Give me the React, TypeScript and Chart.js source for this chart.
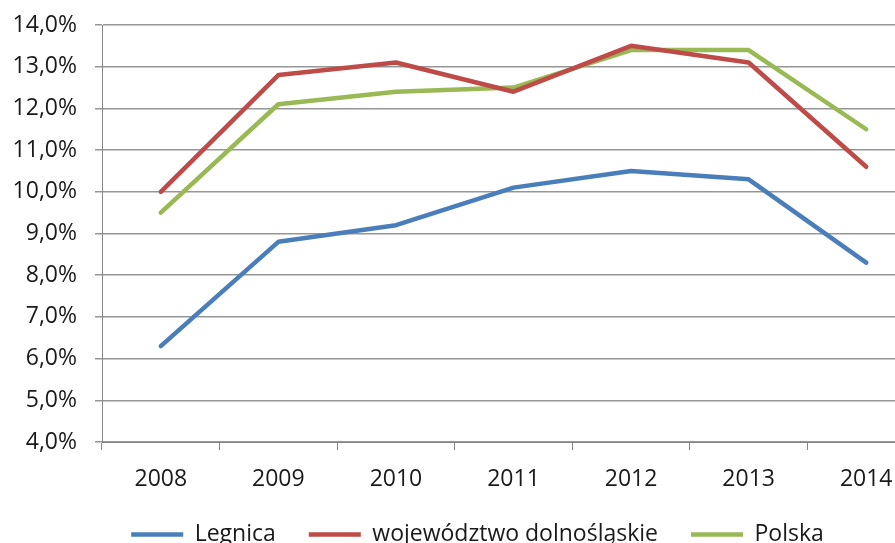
import React, { useEffect, useRef } from "react";
import { Chart, registerables } from "chart.js";

Chart.register(...registerables);

const categories = ["2008", "2009", "2010", "2011", "2012", "2013", "2014"];
const legnica = [6.3, 8.8, 9.2, 10.1, 10.5, 10.3, 8.3];
const dolnoslaskie = [10.0, 12.8, 13.1, 12.4, 13.5, 13.1, 10.6];
const polska = [9.5, 12.1, 12.4, 12.5, 13.4, 13.4, 11.5];
const seriesNames = ["Legnica", "województwo dolnośląskie", "Polska"];

const FONT = "'Open Sans', 'Noto Sans', sans-serif";

const legendShift = {
  id: "legendShift",
  afterLayout(chart: any) {
    if (chart.legend) {
      chart.legend.left += 15;
      chart.legend.right += 15;
      chart.legend.top += 1;
      chart.legend.bottom += 1;
    }
  },
};

export default function App() {
  const ref = useRef<HTMLCanvasElement>(null);
  useEffect(() => {
    if (!ref.current) return;
    const common = { borderWidth: 4.5, pointRadius: 0, tension: 0, borderJoinStyle: "round" as const, borderCapStyle: "round" as const };
    const chart = new Chart(ref.current, {
      type: "line",
      data: {
        labels: categories,
        datasets: [
          { label: seriesNames[0], data: legnica, borderColor: "#4A7EBB", backgroundColor: "#4A7EBB", ...common },
          { label: seriesNames[1], data: dolnoslaskie, borderColor: "#BE4B48", backgroundColor: "#BE4B48", ...common },
          { label: seriesNames[2], data: polska, borderColor: "#98B954", backgroundColor: "#98B954", ...common },
        ],
      },
      plugins: [legendShift],
      options: {
        animation: false,
        responsive: false,
        maintainAspectRatio: false,
        layout: { padding: { left: 0, right: 5, top: 25, bottom: 0 } },
        plugins: {
          tooltip: { enabled: false },
          legend: {
            position: "bottom",
            labels: {
              usePointStyle: true,
              pointStyle: "line",
              pointStyleWidth: 52,
              boxHeight: 23,
              padding: 33,
              color: "#1a1a1a",
              font: { family: FONT, size: 23 },
            },
          },
        },
        scales: {
          x: {
            offset: true,
            grid: { offset: true, drawOnChartArea: false, drawTicks: true, tickLength: 8, color: "#868686" },
            border: { color: "#868686", width: 1 },
            ticks: { color: "#1a1a1a", font: { family: FONT, size: 23 }, padding: 16, maxRotation: 0 },
            afterFit: (s: any) => { s.height = 47; },
          },
          y: {
            min: 4,
            max: 14,
            ticks: {
              stepSize: 1,
              color: "#1a1a1a",
              font: { family: FONT, size: 23 },
              padding: 18,
              callback: (v: any) => Number(v).toFixed(1).replace(".", ",") + "%",
            },
            grid: { color: "#969696", lineWidth: 1.5, tickLength: 7 },
            border: { color: "#868686", width: 1 },
            afterFit: (s: any) => { s.width = 102; s.paddingTop = 0; s.paddingBottom = 0; },
          },
        },
      },
    });
    return () => chart.destroy();
  }, []);
  return (
    <div style={{ position: "fixed", left: 0, top: 0, width: 895, height: 543, overflow: "hidden", background: "#fff" }}>
      <canvas ref={ref} width={930} height={555} style={{ width: 930, height: 555, display: "block" }} />
    </div>
  );
}
